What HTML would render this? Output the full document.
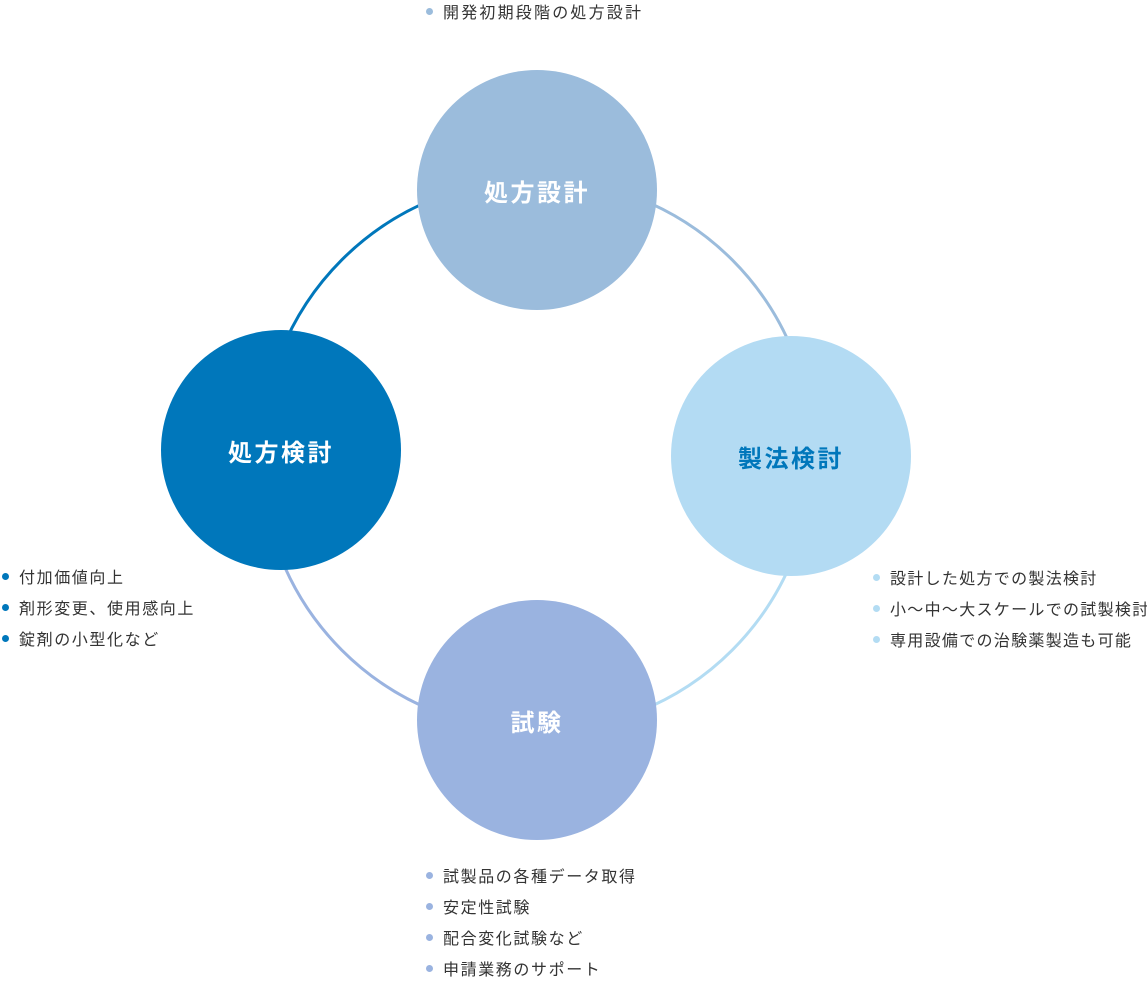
<!DOCTYPE html>
<html><head><meta charset="utf-8"><style>
body{margin:0;width:1147px;height:983px;background:#fff;position:relative;overflow:hidden;font-family:"Liberation Sans","Noto Sans CJK JP",sans-serif;}
.c{position:absolute;width:240px;height:240px;border-radius:50%;display:flex;align-items:center;justify-content:center;font-size:24px;letter-spacing:2.5px;font-weight:bold;color:#fff;}
.l{position:absolute;font-size:16px;letter-spacing:2.2px;color:#333;line-height:20px;white-space:nowrap;}
.l i{display:inline-block;width:7px;height:7px;border-radius:50%;margin-right:10px;vertical-align:3px;}
.r{letter-spacing:1.3px;}
</style></head><body>
<svg width="1147" height="983" style="position:absolute;left:0;top:0">
<g fill="none" stroke-width="3">
<path d="M261 455 A276 276 0 0 1 537 179" stroke="#0077bb"/>
<path d="M537 179 A276 276 0 0 1 813 455" stroke="#9bbcdc"/>
<path d="M813 455 A276 276 0 0 1 537 731" stroke="#b3dcf3"/>
<path d="M537 731 A276 276 0 0 1 261 455" stroke="#9ab3e0"/>
</g></svg>
<div class="c" style="left:417px;top:70px;background:#9bbcdc">処方設計</div>
<div class="c" style="left:161px;top:330px;background:#0077bb">処方検討</div>
<div class="c" style="left:671px;top:336px;background:#b3dbf3;color:#0077bb">製法検討</div>
<div class="c" style="left:417px;top:600px;background:#9ab3e0">試験</div>
<div class="l" style="left:426px;top:4px"><i style="background:#9bbcdc"></i>開発初期段階の処方設計</div>
<div class="l" style="left:2px;top:569px;letter-spacing:1.6px"><i style="background:#0077bb"></i>付加価値向上</div>
<div class="l" style="left:2px;top:600px;letter-spacing:1.6px"><i style="background:#0077bb"></i>剤形変更、使用感向上</div>
<div class="l" style="left:2px;top:631px;letter-spacing:1.6px"><i style="background:#0077bb"></i>錠剤の小型化など</div>
<div class="l r" style="left:873px;top:570px"><i style="background:#b3dcf3"></i>設計した処方での製法検討</div>
<div class="l r" style="left:873px;top:601px"><i style="background:#b3dcf3"></i>小～中～大スケールでの試製検討</div>
<div class="l r" style="left:873px;top:632px"><i style="background:#b3dcf3"></i>専用設備での治験薬製造も可能</div>
<div class="l" style="left:426px;top:868px;letter-spacing:1.6px"><i style="background:#9ab3e0"></i>試製品の各種データ取得</div>
<div class="l" style="left:426px;top:899px;letter-spacing:1.6px"><i style="background:#9ab3e0"></i>安定性試験</div>
<div class="l" style="left:426px;top:930px;letter-spacing:1.6px"><i style="background:#9ab3e0"></i>配合変化試験など</div>
<div class="l" style="left:426px;top:961px;letter-spacing:1.6px"><i style="background:#9ab3e0"></i>申請業務のサポート</div>
</body></html>
